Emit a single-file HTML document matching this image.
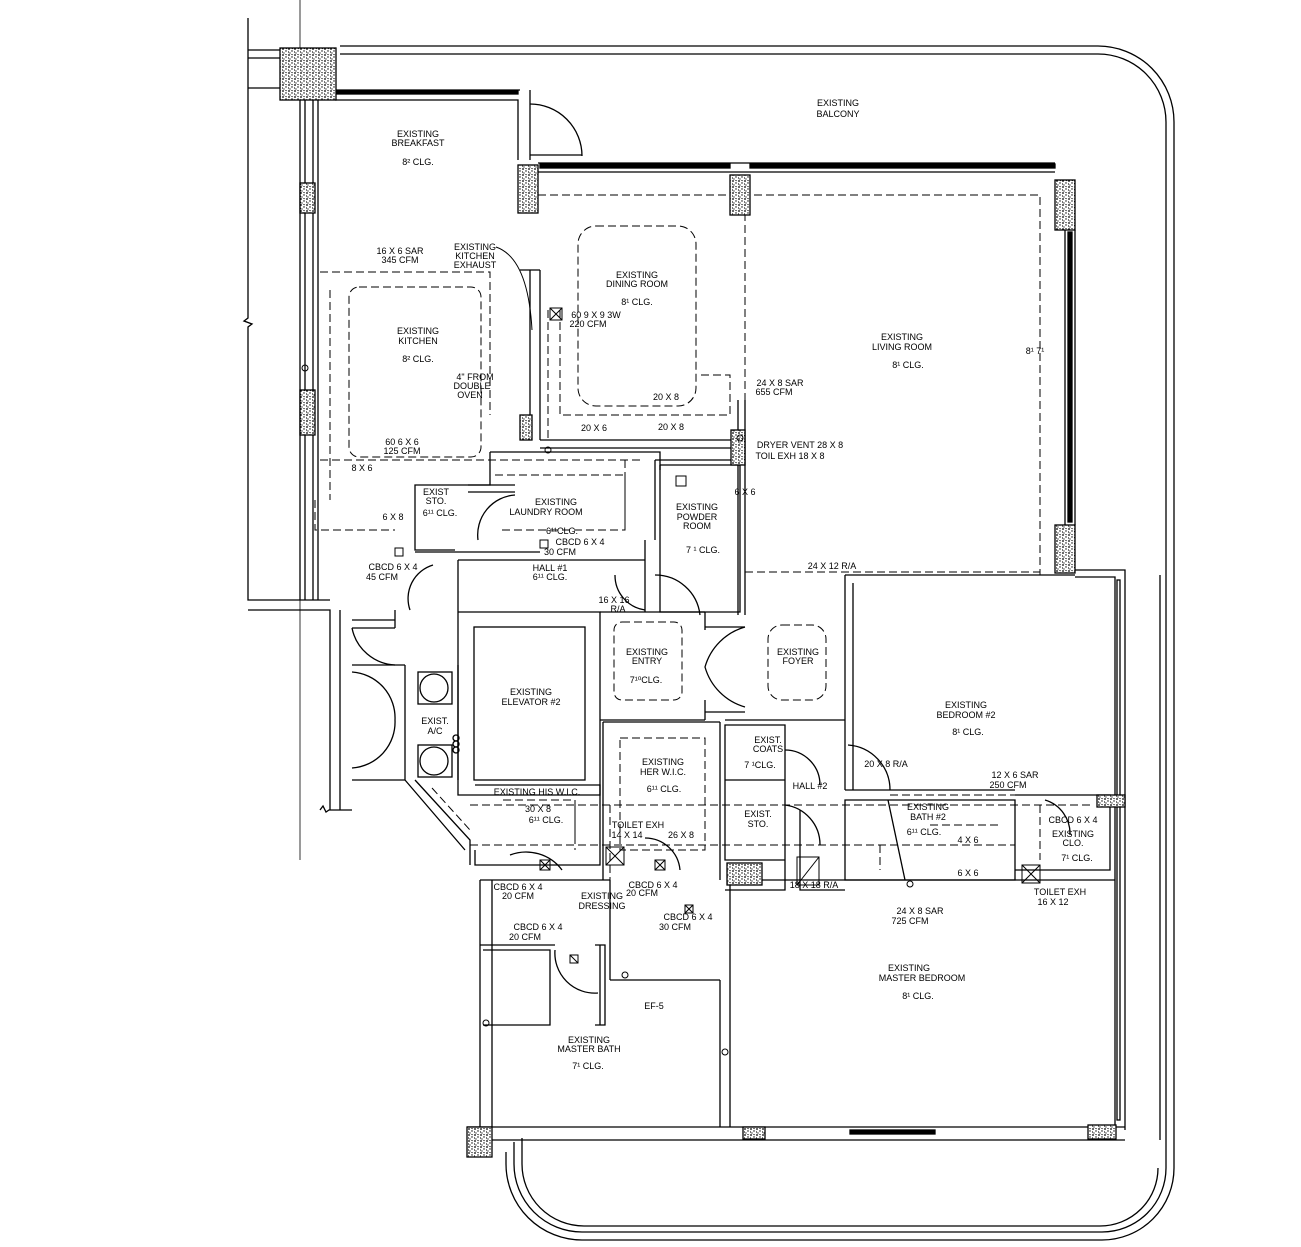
<!DOCTYPE html>
<html><head><meta charset="utf-8"><style>
html,body{margin:0;padding:0;background:#fff}
svg{display:block}
text{font-family:"Liberation Sans",sans-serif;font-size:9px;fill:#000;text-anchor:middle}
</style></head><body>
<svg width="1301" height="1247" viewBox="0 0 1301 1247" xmlns="http://www.w3.org/2000/svg">
<defs>
<pattern id="h" width="6" height="6" patternUnits="userSpaceOnUse">
<rect width="6" height="6" fill="#fff"/><circle cx="1" cy="1" r="0.9" fill="#000"/><circle cx="4" cy="3" r="0.7" fill="#000"/><circle cx="2" cy="5" r="0.6" fill="#000"/><path d="M3 0l2 1M0 3l1 2" stroke="#000" stroke-width="0.6"/>
</pattern>
</defs>
<g fill="none" stroke="#000" stroke-width="1.3">
<path d="M340 46 H1098 A76 76 0 0 1 1174 122 V1168 A72 72 0 0 1 1102 1240 H582 A76 76 0 0 1 506 1164 V1152"/>
<path d="M340 54 H1098 A68 68 0 0 1 1166 122 V1168 A64 64 0 0 1 1102 1232 H582 A68 68 0 0 1 514 1164 V1142"/>
<path d="M1158 1168 A58 58 0 0 1 1100 1226 H584 A62 62 0 0 1 522 1164 V1138"/>
<path d="M1160 575 V1140"/>
<path d="M248 18 V318 l-4 3 8 3 -4 3 V600 H330"/>
<path d="M300 0 V860" stroke-width="0.8"/>
<path d="M248 50 H280 M248 58 H280 M248 88 H280"/>
<path d="M248 610 H330 V810 M340 610 V810 M320 810 l3 -4 3 6 3 -2 H352"/>
<path d="M313 100 V600 M318 100 V600 M300 100 V600 M305 100 V600"/>
<path d="M335 90 H520 M335 100 H518 V160 M530 90 V160"/>
<rect x="336" y="91" width="182" height="3" fill="#000"/>
<path d="M530 104 A52 52 0 0 1 582 156 M530 155 H582"/>
<path d="M538 163 H1055 M538 172 H1055"/>
<rect x="540" y="164" width="190" height="4" fill="#000"/>
<rect x="750" y="164" width="305" height="4" fill="#000"/>
<path d="M1065 230 V525 M1075 230 V525"/>
<rect x="1068" y="232" width="4" height="290" fill="#000"/>
<path d="M1075 570 H1125 V1130 M1075 577 H1115 V1128"/>
<rect x="1117" y="580" width="3" height="540" fill="none"/>
<path d="M467 1127 H1125 M492 1140 H1125"/>
<rect x="850" y="1130" width="85" height="4" fill="#000"/>
<path d="M530 270 V440 M540 270 V440 M520 270 H540"/>
<path d="M540 440 H745 M540 448 H745 M745 400 V615 M738 400 V615"/>
<path d="M490 452 H660 V470 M490 452 V485 H415 V550 H455 M415 552 H540"/>
<path d="M468 485 H515 M468 492 H515"/>
<path d="M655 460 H745 M660 465 H740 V612 H660 V465"/>
<path d="M655 460 V540 M645 540 V612"/>
<path d="M458 612 H600 V720 M458 612 V795 H600 V720"/>
<rect x="474" y="627" width="111" height="153"/>
<path d="M600 612 H705 M600 720 H705 M705 612 V630 M705 700 V720"/>
<path d="M705 627 H745 M705 712 H745"/>
<path d="M745 627 A58 58 0 0 0 705 667 A58 58 0 0 0 745 707"/>
<path d="M458 612 V560 M458 560 H645"/>
<path d="M352 665 H405 M352 780 H405 M405 665 V780 M458 665 V780"/>
<path d="M352 620 H395 M352 628 H395 M395 610 V628"/>
<path d="M352 628 A46 46 0 0 0 395 665 M352 672 A46 46 0 0 1 395 720 A46 46 0 0 1 352 768"/>
<rect x="418" y="672" width="34" height="32"/><circle cx="434" cy="688" r="14"/>
<rect x="418" y="745" width="34" height="32"/><circle cx="434" cy="761" r="14"/>
<circle cx="456" cy="738" r="3"/><circle cx="456" cy="744" r="3"/><circle cx="456" cy="750" r="3"/>
<path d="M405 780 L465 850 M415 780 L470 840 V865"/>
<path d="M475 785 H600 V865 H475 V850 M603 722 V880 M720 722 V880 M603 722 H720"/>
<path d="M480 880 H610 M480 880 V1127 M492 880 V1127 M480 945 H555 M483 950 H550 V1025 H483"/>
<path d="M610 880 V980 M600 945 V1025 M595 945 H605 V1025 H595"/>
<path d="M610 980 H720 M720 980 V1127 M730 880 V1127 M730 880 H1115"/>
<path d="M725 725 H785 V780 H725 Z M725 780 H785 V860 H725 V780 M785 780 V890 H725"/>
<path d="M725 720 H845 M845 575 V790 M853 583 V790 M845 575 H1075"/>
<path d="M845 790 H1015 M845 800 H1015 V880 H845 Z M1015 795 H1110 V870 H1015"/>
<path d="M800 810 V890 H845"/>
<path d="M515 495 A40 40 0 0 0 478 540 M433 565 A35 35 0 0 0 410 610 M615 575 A35 35 0 0 0 645 610 M655 575 A45 45 0 0 1 700 615 M785 750 A35 35 0 0 1 820 785 M848 745 A45 45 0 0 1 890 790 M785 805 A40 40 0 0 1 820 845 M1045 800 A35 35 0 0 1 1070 835 M905 880 L888 800 M510 855 A45 45 0 0 1 562 870 M645 838 A35 35 0 0 1 680 870 M555 950 A40 40 0 0 0 598 993"/>
<path d="M496 247 Q528 258 532 330" stroke-width="1"/>
</g>
<g fill="none" stroke="#000" stroke-width="1" stroke-dasharray="8 4">
<path d="M538 195 H1040 V575 M745 213 V420"/>
<rect x="578" y="226" width="118" height="180" rx="18"/>
<rect x="349" y="287" width="132" height="170" rx="10"/>
<path d="M320 272 H490 V415 M330 290 V500 M315 500 V530 H395 M320 460 H640"/>
<path d="M548 310 V440 M560 310 V415 H730 V375 H700"/>
<path d="M495 475 H625 V530 H500 M625 460 V530"/>
<path d="M745 572 H1040"/>
<rect x="614" y="622" width="68" height="78" rx="8"/>
<rect x="768" y="625" width="58" height="75" rx="14"/>
<rect x="620" y="738" width="85" height="112"/>
<path d="M470 805 H1090 M470 845 H1015 M503 800 H575 V850 M610 805 V930 M575 805 V840"/>
<path d="M890 795 H1015 M930 825 H1000 M880 845 V870 M1040 805 V860"/>
<path d="M432 788 L470 830"/>
</g>
<g fill="url(#h)" stroke="#000" stroke-width="1.3">
<rect x="280" y="48" width="56" height="52"/>
<rect x="518" y="165" width="20" height="48"/>
<rect x="730" y="175" width="20" height="40"/>
<rect x="1055" y="180" width="20" height="50"/>
<rect x="1055" y="525" width="20" height="48"/>
<rect x="300" y="183" width="15" height="30"/>
<rect x="300" y="390" width="15" height="45"/>
<rect x="520" y="415" width="12" height="25"/>
<rect x="731" y="430" width="14" height="35"/>
<rect x="467" y="1127" width="25" height="30"/>
<rect x="743" y="1127" width="22" height="12"/>
<rect x="1088" y="1125" width="28" height="14"/>
<rect x="727" y="863" width="35" height="22"/>
<rect x="1097" y="795" width="28" height="12"/>
</g>
<g fill="none" stroke="#000" stroke-width="1">
<rect x="550" y="308" width="12" height="12"/><path d="M550 308l12 12M562 308l-12 12"/>
<rect x="606" y="847" width="18" height="18"/><path d="M606 847l18 18M624 847l-18 18"/>
<rect x="1022" y="865" width="18" height="18"/><path d="M1022 865l18 18M1040 865l-18 18"/>
<rect x="540" y="860" width="10" height="10"/><path d="M540 860l10 10M550 860l-10 10"/>
<rect x="655" y="860" width="10" height="10"/><path d="M655 860l10 10M665 860l-10 10"/>
<rect x="685" y="905" width="8" height="8"/><path d="M685 905l8 8M693 905l-8 8"/>
<rect x="570" y="955" width="8" height="8"/><path d="M570 955l8 8"/>
<rect x="797" y="857" width="22" height="28"/><path d="M797 885l22 -28"/>
<rect x="395" y="548" width="8" height="8"/><rect x="540" y="540" width="8" height="8"/>
<rect x="676" y="476" width="10" height="10"/>
<circle cx="305" cy="368" r="3"/><circle cx="548" cy="450" r="3"/><circle cx="910" cy="884" r="3"/><circle cx="625" cy="975" r="3"/><circle cx="486" cy="1023" r="3"/><circle cx="725" cy="1052" r="3"/><circle cx="740" cy="438" r="3"/>
</g>
<text x="838" y="106">EXISTING</text><text x="838" y="117">BALCONY</text>
<text x="418" y="137">EXISTING</text><text x="418" y="146">BREAKFAST</text><text x="418" y="165">8² CLG.</text>
<text x="637" y="278">EXISTING</text><text x="637" y="287">DINING ROOM</text><text x="637" y="305">8¹ CLG.</text>
<text x="902" y="340">EXISTING</text><text x="902" y="350">LIVING ROOM</text><text x="908" y="368">8¹ CLG.</text>
<text x="418" y="334">EXISTING</text><text x="418" y="344">KITCHEN</text><text x="418" y="362">8² CLG.</text>
<text x="475" y="250">EXISTING</text><text x="475" y="259">KITCHEN</text><text x="475" y="268">EXHAUST</text>
<text x="400" y="254">16 X 6 SAR</text><text x="400" y="263">345 CFM</text>
<text x="596" y="318">60 9 X 9 3W</text><text x="588" y="327">220 CFM</text>
<text x="475" y="380">4" FROM</text><text x="472" y="389">DOUBLE</text><text x="470" y="398">OVEN</text>
<text x="402" y="445">60 6 X 6</text><text x="402" y="454">125 CFM</text>
<text x="780" y="386">24 X 8 SAR</text><text x="774" y="395">655 CFM</text>
<text x="666" y="400">20 X 8</text><text x="594" y="431">20 X 6</text><text x="671" y="430">20 X 8</text>
<text x="800" y="448">DRYER VENT 28 X 8</text><text x="790" y="459">TOIL EXH 18 X 8</text>
<text x="362" y="471">8 X 6</text><text x="393" y="520">6 X 8</text><text x="745" y="495">6 X 6</text>
<text x="436" y="495">EXIST</text><text x="436" y="504">STO.</text><text x="440" y="516">6¹¹ CLG.</text>
<text x="556" y="505">EXISTING</text><text x="546" y="515">LAUNDRY ROOM</text>
<text x="562" y="534">6¹¹CLG.</text><text x="580" y="545">CBCD 6 X 4</text><text x="560" y="555">30 CFM</text>
<text x="697" y="510">EXISTING</text><text x="697" y="520">POWDER</text><text x="697" y="529">ROOM</text><text x="703" y="553">7 ¹ CLG.</text>
<text x="393" y="570">CBCD 6 X 4</text><text x="382" y="580">45 CFM</text>
<text x="550" y="571">HALL #1</text><text x="550" y="580">6¹¹ CLG.</text>
<text x="832" y="569">24 X 12 R/A</text>
<text x="614" y="603">16 X 16</text><text x="618" y="612">R/A</text>
<text x="647" y="655">EXISTING</text><text x="647" y="664">ENTRY</text><text x="646" y="683">7¹⁰CLG.</text>
<text x="798" y="655">EXISTING</text><text x="798" y="664">FOYER</text>
<text x="966" y="708">EXISTING</text><text x="966" y="718">BEDROOM #2</text><text x="968" y="735">8¹ CLG.</text>
<text x="531" y="695">EXISTING</text><text x="531" y="705">ELEVATOR #2</text>
<text x="435" y="724">EXIST.</text><text x="435" y="734">A/C</text>
<text x="663" y="765">EXISTING</text><text x="663" y="775">HER W.I.C.</text><text x="664" y="792">6¹¹ CLG.</text>
<text x="768" y="743">EXIST.</text><text x="768" y="752">COATS</text><text x="760" y="768">7 ¹CLG.</text>
<text x="810" y="789">HALL #2</text><text x="886" y="767">20 X 8 R/A</text>
<text x="1015" y="778">12 X 6 SAR</text><text x="1008" y="788">250 CFM</text>
<text x="537" y="795">EXISTING HIS W.I.C.</text><text x="538" y="812">30 X 8</text><text x="546" y="823">6¹¹ CLG.</text>
<text x="758" y="817">EXIST.</text><text x="758" y="827">STO.</text>
<text x="928" y="810">EXISTING</text><text x="928" y="820">BATH #2</text><text x="924" y="835">6¹¹ CLG.</text><text x="968" y="843">4 X 6</text>
<text x="1073" y="823">CBCD 6 X 4</text><text x="1073" y="837">EXISTING</text><text x="1073" y="846">CLO.</text><text x="1077" y="861">7¹ CLG.</text>
<text x="638" y="828">TOILET EXH</text><text x="627" y="838">14 X 14</text><text x="681" y="838">26 X 8</text>
<text x="968" y="876">6 X 6</text><text x="1060" y="895">TOILET EXH</text><text x="1053" y="905">16 X 12</text>
<text x="814" y="888">18 X 18 R/A</text>
<text x="518" y="890">CBCD 6 X 4</text><text x="518" y="899">20 CFM</text>
<text x="602" y="899">EXISTING</text><text x="602" y="909">DRESSING</text>
<text x="653" y="888">CBCD 6 X 4</text><text x="642" y="896">20 CFM</text>
<text x="688" y="920">CBCD 6 X 4</text><text x="675" y="930">30 CFM</text>
<text x="538" y="930">CBCD 6 X 4</text><text x="525" y="940">20 CFM</text>
<text x="920" y="914">24 X 8 SAR</text><text x="910" y="924">725 CFM</text>
<text x="909" y="971">EXISTING</text><text x="922" y="981">MASTER BEDROOM</text><text x="918" y="999">8¹ CLG.</text>
<text x="654" y="1009">EF-5</text>
<text x="589" y="1043">EXISTING</text><text x="589" y="1052">MASTER BATH</text><text x="588" y="1069">7¹ CLG.</text>
<text x="1035" y="354">8¹ 7¹</text>
</svg>
</body></html>
